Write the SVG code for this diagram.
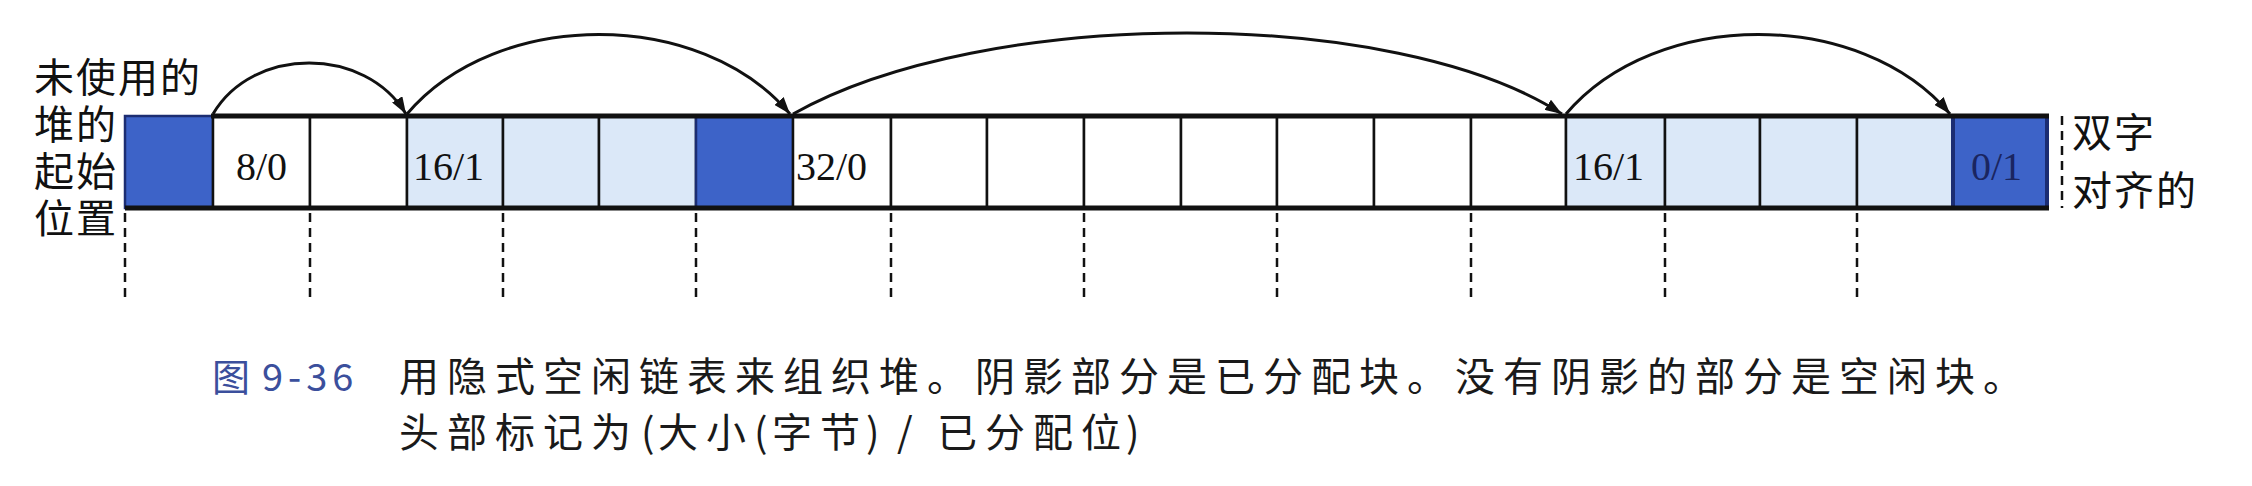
<svg xmlns="http://www.w3.org/2000/svg" width="2252" height="486" viewBox="0 0 2252 486">
  <defs>
    <marker id="ah" markerUnits="userSpaceOnUse" markerWidth="18" markerHeight="12" refX="17" refY="6" orient="auto">
      <path d="M0,0 L17,6 L0,12 z" fill="#111"/>
    </marker>
  </defs>
  <style>
    .cell { stroke: #111; stroke-width: 2.5; }
    .white { fill: #ffffff; }
    .light { fill: #dbe8f8; }
    .dark { fill: #3d63c8; stroke: #1c2d72; }
    .edge { stroke: #111; stroke-width: 5; fill: none; }
    .num { font-family: "Liberation Serif", "Times New Roman", serif; font-size: 40px; fill: #111; }
    .lbl { font-family: "Noto Sans CJK SC", "Noto Sans", sans-serif; font-size: 40px; fill: #111; letter-spacing: 2px; }
    .cap { font-family: "Noto Sans CJK SC", "Noto Sans", sans-serif; font-size: 40px; fill: #1a1a1a; }
    .fig { font-family: "Noto Sans CJK SC", "Noto Sans", sans-serif; font-size: 38px; fill: #3b4f9c; }
    .dash { stroke: #111; stroke-width: 2.5; stroke-dasharray: 9 6; fill: none; }
    .arc { stroke: #111; stroke-width: 3; fill: none; marker-end: url(#ah); }
  </style>
  <rect width="2252" height="486" fill="#ffffff"/>

  <g id="pad-start">
    <rect class="cell dark" x="125" y="116" width="88" height="92"/>
  </g>

  <g id="block-8-0">
    <rect class="cell white" x="213" y="116" width="97" height="92"/>
    <rect class="cell white" x="310" y="116" width="97" height="92"/>
    <text class="num" x="236" y="180">8/0</text>
  </g>

  <g id="block-16-1-a">
    <rect class="cell light" x="407" y="116" width="96" height="92"/>
    <rect class="cell light" x="503" y="116" width="96" height="92"/>
    <rect class="cell light" x="599" y="116" width="97" height="92"/>
    <rect class="cell dark" x="696" y="116" width="97" height="92"/>
    <text class="num" x="413" y="180">16/1</text>
  </g>

  <g id="block-32-0">
    <rect class="cell white" x="793" y="116" width="98" height="92"/>
    <rect class="cell white" x="891" y="116" width="96" height="92"/>
    <rect class="cell white" x="987" y="116" width="97" height="92"/>
    <rect class="cell white" x="1084" y="116" width="97" height="92"/>
    <rect class="cell white" x="1181" y="116" width="96" height="92"/>
    <rect class="cell white" x="1277" y="116" width="97" height="92"/>
    <rect class="cell white" x="1374" y="116" width="97" height="92"/>
    <rect class="cell white" x="1471" y="116" width="95" height="92"/>
    <text class="num" x="796" y="180">32/0</text>
  </g>

  <g id="block-16-1-b">
    <rect class="cell light" x="1566" y="116" width="99" height="92"/>
    <rect class="cell light" x="1665" y="116" width="95" height="92"/>
    <rect class="cell light" x="1760" y="116" width="97" height="92"/>
    <rect class="cell light" x="1857" y="116" width="96" height="92"/>
    <text class="num" x="1573" y="180">16/1</text>
  </g>

  <g id="epilogue">
    <rect class="cell dark" x="1953" y="116" width="94" height="92" style="stroke-width:4"/>
    <text class="num" x="1971" y="180" style="fill:#1a2560">0/1</text>
  </g>

  <g id="bar-edges">
    <line class="edge" x1="211" y1="116" x2="2049" y2="116"/>
    <line class="edge" x1="125" y1="208" x2="2049" y2="208"/>
  </g>

  <g id="alignment-marks">
    <line class="dash" x1="125" y1="213" x2="125" y2="302"/>
    <line class="dash" x1="310" y1="213" x2="310" y2="302"/>
    <line class="dash" x1="503" y1="213" x2="503" y2="302"/>
    <line class="dash" x1="696" y1="213" x2="696" y2="302"/>
    <line class="dash" x1="891" y1="213" x2="891" y2="302"/>
    <line class="dash" x1="1084" y1="213" x2="1084" y2="302"/>
    <line class="dash" x1="1277" y1="213" x2="1277" y2="302"/>
    <line class="dash" x1="1471" y1="213" x2="1471" y2="302"/>
    <line class="dash" x1="1665" y1="213" x2="1665" y2="302"/>
    <line class="dash" x1="1857" y1="213" x2="1857" y2="302"/>
    <line class="dash" x1="2062" y1="116" x2="2062" y2="208"/>
  </g>

  <g id="connectors">
    <path class="arc" d="M213,114 C253,46 365,46 406,114"/>
    <path class="arc" d="M407,114 C497,8 701,8 790,114"/>
    <path class="arc" d="M793,114 C985,6 1395,6 1562,114"/>
    <path class="arc" d="M1566,114 C1656,8 1861,8 1950,114"/>
  </g>

  <g id="label-start">
    <text class="lbl"><tspan x="34" y="92">未使用的</tspan><tspan x="34" y="139">堆的</tspan><tspan x="34" y="186">起始</tspan><tspan x="34" y="233">位置</tspan></text>
  </g>

  <g id="label-align">
    <text class="lbl"><tspan x="2072" y="147">双字</tspan><tspan x="2072" y="205">对齐的</tspan></text>
  </g>

  <g id="caption">
    <text class="fig" x="212" y="391">图</text>
    <text class="fig" x="262" y="391" letter-spacing="5">9-36</text>
    <text class="cap" x="399" y="391" letter-spacing="8">用隐式空闲链表来组织堆。阴影部分是已分配块。没有阴影的部分是空闲块。</text>
    <text class="cap" x="399 447 495 543 591 641 658 706 754 772 820 866 897 937 985 1033 1081 1126" y="447">头部标记为(大小(字节)/已分配位)</text>
  </g>
</svg>
